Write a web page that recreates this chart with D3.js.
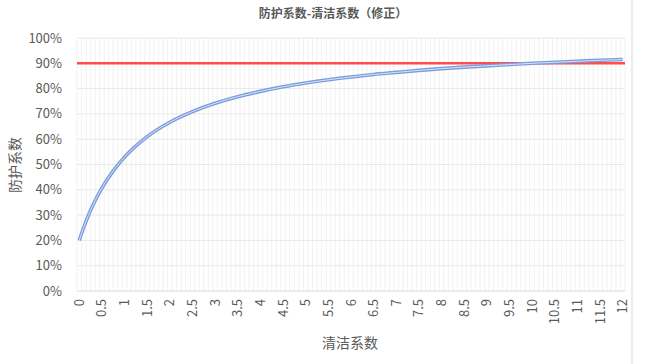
<!DOCTYPE html>
<html>
<head>
<meta charset="utf-8">
<script src="https://cdn.jsdelivr.net/npm/d3@7/dist/d3.min.js"></script>
<style>
  html, body { margin: 0; padding: 0; background: #fff; width: 671px; height: 364px; overflow: hidden; }
  svg { display: block; overflow: visible; font-family: "Noto Sans CJK SC", "Noto Sans", sans-serif; }
</style>
</head>
<body>
<div id="chart"></div>
<script>
// values
const cleanFactor = [0, 0.1, 0.2, 0.3, 0.5, 0.75, 1, 1.5, 2, 2.5, 3, 3.5, 4, 4.5, 5, 5.5, 6,
  6.5, 7, 7.5, 8, 8.5, 9, 9.5, 10, 10.5, 11, 11.5, 12];
const protectFactor = [0.20, 0.252, 0.298, 0.339, 0.407, 0.475, 0.529, 0.610, 0.667, 0.709, 0.742,
  0.768, 0.789, 0.807, 0.822, 0.835, 0.846, 0.856, 0.864, 0.872, 0.879, 0.885, 0.890, 0.895,
  0.900, 0.904, 0.908, 0.912, 0.915];
const targetLevel = 0.9;

const xTickValues = [0, 0.5, 1, 1.5, 2, 2.5, 3, 3.5, 4, 4.5, 5, 5.5, 6, 6.5, 7, 7.5, 8, 8.5,
  9, 9.5, 10, 10.5, 11, 11.5, 12];
const xTickLabels = ['0', '0.5', '1', '1.5', '2', '2.5', '3', '3.5', '4', '4.5', '5', '5.5', '6',
  '6.5', '7', '7.5', '8', '8.5', '9', '9.5', '10', '10.5', '11', '11.5', '12'];
const yTickValues = [0, 0.1, 0.2, 0.3, 0.4, 0.5, 0.6, 0.7, 0.8, 0.9, 1];

const width = 671;
const height = 364;
const margin = { top: 38, right: 46, bottom: 73, left: 77 };
const innerWidth = width - margin.left - margin.right;
const innerHeight = height - margin.top - margin.bottom;
const catStep = 0.1;

const svg = d3.select('#chart')
  .append('svg')
  .attr('width', width)
  .attr('height', height);

// outer chart border on the right
svg.append('line')
  .attr('x1', 632).attr('x2', 632)
  .attr('y1', 0).attr('y2', height)
  .attr('stroke', '#d9d9d9');

svg.append('text')
  .attr('x', 333)
  .attr('y', 18)
  .attr('text-anchor', 'middle')
  .attr('font-size', 12)
  .attr('font-weight', 'bold')
  .attr('fill', '#595959')
  .text('防护系数-清洁系数（修正）');

const g = svg.append('g')
  .attr('transform', `translate(${margin.left},${margin.top})`);

// category axis: points sit in the middle of each 0.1 wide band
const x = d3.scaleLinear()
  .domain([-catStep / 2, 12 + catStep / 2])
  .range([0, innerWidth]);

const y = d3.scaleLinear()
  .domain([0, 1])
  .range([innerHeight, 0]);

// faint vertical gridlines at category boundaries
const boundaries = d3.range(0, 122).map(i => -catStep / 2 + i * catStep);
g.append('g')
  .selectAll('line')
  .data(boundaries)
  .enter()
  .append('line')
  .attr('x1', d => x(d)).attr('x2', d => x(d))
  .attr('y1', 0).attr('y2', innerHeight)
  .attr('stroke', '#f1f1f1')
  .attr('stroke-width', 1);

// horizontal gridlines
g.append('g')
  .selectAll('line')
  .data(yTickValues.slice(1))
  .enter()
  .append('line')
  .attr('x1', 0).attr('x2', innerWidth)
  .attr('y1', d => y(d)).attr('y2', d => y(d))
  .attr('stroke', '#e8e8e8');

// base axis line
g.append('line')
  .attr('x1', 0).attr('x2', innerWidth)
  .attr('y1', innerHeight).attr('y2', innerHeight)
  .attr('stroke', '#d9d9d9');

// y tick labels
const pct = d3.format('.0%');
g.append('g')
  .selectAll('text')
  .data(yTickValues)
  .enter()
  .append('text')
  .attr('x', -15)
  .attr('y', d => y(d))
  .attr('dy', '0.35em')
  .attr('text-anchor', 'end')
  .attr('font-size', 13)
  .attr('fill', '#595959')
  .text(d => pct(d));

// x tick labels, rotated
g.append('g')
  .selectAll('text')
  .data(xTickValues)
  .enter()
  .append('text')
  .attr('transform', d => `translate(${x(d) + 4.5},${innerHeight + 8}) rotate(-90)`)
  .attr('text-anchor', 'end')
  .attr('font-size', 13)
  .attr('fill', '#595959')
  .text((d, i) => xTickLabels[i]);

// axis titles
svg.append('text')
  .attr('transform', 'translate(20,165) rotate(-90)')
  .attr('text-anchor', 'middle')
  .attr('font-size', 14)
  .attr('fill', '#595959')
  .text('防护系数');

svg.append('text')
  .attr('x', 350)
  .attr('y', 348)
  .attr('text-anchor', 'middle')
  .attr('font-size', 14)
  .attr('fill', '#595959')
  .text('清洁系数');

// target line at 90%
g.append('line')
  .attr('x1', 0).attr('x2', innerWidth)
  .attr('y1', y(targetLevel)).attr('y2', y(targetLevel))
  .attr('stroke', '#ff4d4d')
  .attr('stroke-width', 2.5);

// curve drawn as a double line
const line = d3.line()
  .x((d, i) => x(cleanFactor[i]))
  .y(d => y(d))
  .curve(d3.curveMonotoneX);

g.append('path')
  .datum(protectFactor)
  .attr('d', line)
  .attr('fill', 'none')
  .attr('stroke', '#7b9ddd')
  .attr('stroke-width', 3.6);

g.append('path')
  .datum(protectFactor)
  .attr('d', line)
  .attr('fill', 'none')
  .attr('stroke', '#d8e3f6')
  .attr('stroke-width', 1);
</script>
</body>
</html>
